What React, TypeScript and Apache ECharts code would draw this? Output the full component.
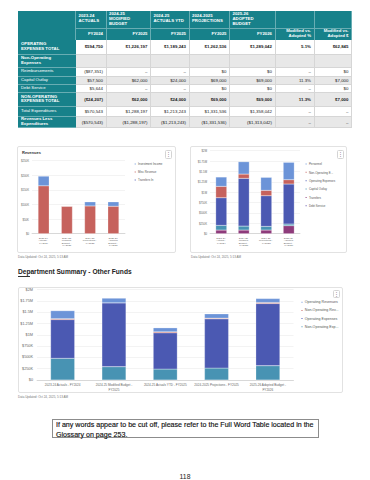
import React, { useEffect, useRef } from 'react';
import * as echarts from 'echarts';

const FONT = '"Liberation Sans", Arial, Helvetica, sans-serif';

// ---------- table data ----------
const tableHeaders = ['2023-24 ACTUALS', '2024-25 MODIFIED BUDGET', '2024-25 ACTUALS YTD', '2024-2025 PROJECTIONS', '2025-26 ADOPTED BUDGET', '', ''];
const fiscalYears = ['FY2024', 'FY2025', 'FY2025', 'FY2025', 'FY2026', 'Modified vs. Adopted %', 'Modified vs. Adopted $'];
const rowLabels = [
  'OPERATING EXPENSES TOTAL',
  'Non-Operating Expenses',
  'Reimbursements',
  'Capital Outlay',
  'Debt Service',
  'NON-OPERATING EXPENSES TOTAL',
  'Total Expenditures',
  'Revenues Less Expenditures',
];
const rowValues = [
  ['$594,750', '$1,226,197', '$1,189,243', '$1,262,536', '$1,289,042', '5.1%', '$62,845'],
  ['', '', '', '', '', '', ''],
  ['($87,351)', '–', '–', '$0', '$0', '–', '$0'],
  ['$57,500', '$62,000', '$24,000', '$69,000', '$69,000', '11.3%', '$7,000'],
  ['$5,644', '–', '–', '$0', '$0', '–', '$0'],
  ['($24,207)', '$62,000', '$24,000', '$69,000', '$69,000', '11.3%', '$7,000'],
  ['$570,543', '$1,288,197', '$1,213,243', '$1,331,536', '$1,358,042', '–', '–'],
  ['($570,543)', '($1,288,197)', '($1,213,243)', '($1,331,536)', '($1,313,042)', '–', '–'],
];
const boldLabelRows = [true, true, false, false, false, true, false, true];
const boldValueRows = [true, false, false, false, false, true, false, false];

// ---------- revenues chart ----------
const revCategories = ['2023-24 Actuals - FY2024', '2024-25 Modified Budget - FY2025', '2024-25 Projections - FY2025', '2025-26 Adopted Budget - FY2026'];
const revInvestmentIncome = [33000, 0, 14000, 15000];
const revMiscRevenue = [164000, 94000, 95000, 94000];
const revTransfersIn = [0, 0, 0, 0];

// ---------- expenditures chart ----------
const expCategories = ['2023-24 Actuals - FY2024', '2024-25 Modified Budget - FY2025', '2024-25 Projections - FY2025', '2025-26 Adopted Budget - FY2026'];
const expPersonnel = [225000, 297000, 313000, 418000];
const expNonOperating = [273000, 104000, 129000, 104000];
const expOperating = [667000, 1149000, 739000, 964000];
const expCapitalOutlay = [112000, 96000, 88000, 40000];
const expTransfers = [88000, 88000, 88000, 193000];
const expDebtService = [0, 0, 0, 0];

// ---------- department summary chart ----------
const sumCategories = ['2023-24 Actuals - FY2024', '2024-25 Modified Budget - FY2025', '2024-25 Actuals YTD - FY2025', '2024-2025 Projections - FY2025', '2025-26 Adopted Budget - FY2026'];
const sumOperatingRevenues = [177000, 103000, 88000, 95000, 88000];
const sumNonOperatingRevenues = [20000, 0, 22000, 15000, 22000];
const sumOperatingExpenses = [857000, 1413000, 801000, 1088000, 1376000];
const sumNonOperatingExpenses = [479000, 294000, 243000, 265000, 316000];

const dataUpdated = 'Data Updated: Oct 24, 2025, 5:13 AM';

const C_LIGHT = '#6c94d8';
const C_RED = '#c6625d';
const C_DARK = '#4b59b2';
const C_TEAL = '#4893b3';
const C_MAG = '#8e3b7b';
const C_DEBT = '#5d4ba6';
const TEAL_HDR = '#17818a';

const yFmt = (v: number) =>
  v === 0 ? '$0' : v >= 1e6 ? `$${+(v / 1e6).toFixed(2)}M` : `$${v / 1e3}K`;

// long category names wrap before the fiscal-year suffix
const wrapLong = (s: string) => (s.length > 30 ? s.replace(' FY', '\nFY') : s);

export default function App() {
  const ref = useRef<HTMLDivElement>(null);

  useEffect(() => {
    if (!ref.current) return;
    const chart = echarts.init(ref.current, undefined, { renderer: 'svg' });
    const small = { color: '#666', fontFamily: FONT };
    const mkX = (gi: number, data: string[], fs: number, lh: number, w: number | undefined, margin: number, formatter?: (s: string) => string) => ({
      type: 'category',
      gridIndex: gi,
      data,
      axisTick: { show: false },
      axisLine: { lineStyle: { color: '#bdbdbd', width: 0.5 } },
      axisLabel: w
        ? { ...small, interval: 0, fontSize: fs, lineHeight: lh, width: w, overflow: 'break', margin }
        : { ...small, interval: 0, fontSize: fs, lineHeight: lh, margin, formatter },
    });
    const mkY = (gi: number, max: number, interval: number, fs: number, margin: number) => ({
      type: 'value',
      gridIndex: gi,
      min: 0,
      max,
      interval,
      axisLine: { show: false },
      axisTick: { show: false },
      splitLine: { lineStyle: { color: '#e6e6e6', width: 0.5 } },
      axisLabel: { ...small, fontSize: fs, margin, formatter: yFmt },
    });
    const bar = (name: string, data: number[], color: string, gi: number, stack: string, bw: number) => ({
      type: 'bar',
      name,
      data,
      xAxisIndex: gi,
      yAxisIndex: gi,
      stack,
      barWidth: bw,
      itemStyle: { color, borderColor: '#ffffff', borderWidth: 0.25 },
    });
    const legend = (left: number, top: number, fs: number, lh: number, gap: number, w: number, items: [string, string][]) => ({
      orient: 'vertical',
      left,
      top,
      padding: 0,
      itemWidth: 3,
      itemHeight: 3,
      itemGap: gap,
      icon: 'roundRect',
      textStyle: { color: '#555', fontFamily: FONT, fontSize: fs, lineHeight: lh, width: w, overflow: 'truncate', ellipsis: '...', padding: [0, 0, 0, -3.7] },
      data: items.map(([name, color]) => ({ name, itemStyle: { color } })),
    });

    chart.setOption({
      animation: false,
      textStyle: { fontFamily: FONT },
      grid: [
        { left: 32, top: 160.7, width: 93, height: 73, containLabel: false, outerBoundsMode: 'none' },
        { left: 210, top: 150.7, width: 90, height: 83, containLabel: false, outerBoundsMode: 'none' },
        { left: 37, top: 289.6, width: 256.5, height: 90.4, containLabel: false, outerBoundsMode: 'none' },
      ],
      xAxis: [
        mkX(0, revCategories, 2.5, 2.3, 15, 3.5),
        mkX(1, expCategories, 2.5, 2.3, 15, 3.5),
        mkX(2, sumCategories, 3.1, 4.7, undefined, 2.5, wrapLong),
      ],
      yAxis: [
        mkY(0, 250000, 50000, 2.8, 3),
        mkY(1, 2000000, 250000, 2.8, 3),
        mkY(2, 2000000, 250000, 3.8, 4),
      ],
      legend: [
        legend(132.7, 161.5, 2.9, 3, 3, 40, [['Investment Income', C_LIGHT], ['Misc Revenue', C_RED], ['Transfers In', C_DARK]]),
        legend(303.6, 161.5, 2.9, 3, 3.35, 27.5, [['Personnel', C_LIGHT], ['Non-Operating Expenses', C_RED], ['Operating Expenses', C_DARK], ['Capital Outlay', C_TEAL], ['Transfers', C_MAG], ['Debt Service', C_DEBT]]),
        legend(299.5, 299.7, 3.6, 4, 3.2, 36, [['Operating Revenues', C_LIGHT], ['Non-Operating Revenues', C_RED], ['Operating Expenses', C_DARK], ['Non-Operating Expenses', C_TEAL]]),
      ],
      series: [
        bar('Transfers In', revTransfersIn, C_DARK, 0, 'rev', 11),
        bar('Misc Revenue', revMiscRevenue, C_RED, 0, 'rev', 11),
        bar('Investment Income', revInvestmentIncome, C_LIGHT, 0, 'rev', 11),

        bar('Debt Service', expDebtService, C_DEBT, 1, 'exp', 11),
        bar('Transfers', expTransfers, C_MAG, 1, 'exp', 11),
        bar('Capital Outlay', expCapitalOutlay, C_TEAL, 1, 'exp', 11),
        bar('Operating Expenses', expOperating, C_DARK, 1, 'exp', 11),
        bar('Non-Operating Expenses', expNonOperating, C_RED, 1, 'exp', 11),
        bar('Personnel', expPersonnel, C_LIGHT, 1, 'exp', 11),

        bar('Non-Operating Expenses', sumNonOperatingExpenses, C_TEAL, 2, 'sum', 24),
        bar('Operating Expenses', sumOperatingExpenses, C_DARK, 2, 'sum', 24),
        bar('Non-Operating Revenues', sumNonOperatingRevenues, C_RED, 2, 'sum', 24),
        bar('Operating Revenues', sumOperatingRevenues, C_LIGHT, 2, 'sum', 24),
      ],
    });
    return () => chart.dispose();
  }, []);

  const colX = [18, 76, 106.5, 151, 189.5, 230, 275.5, 314.5, 352];
  const rowY = [11, 28.5, 39.5, 55, 68, 76.5, 85, 93.3, 106.7, 117, 128];
  const cells: React.ReactNode[] = [];
  const hdrBorder = '0.5px solid rgba(255,255,255,0.35)';
  const dataBorder = '0.5px solid #d6d6d6';

  cells.push(
    <div key="tl" style={{ position: 'absolute', left: colX[0], top: rowY[0], width: colX[1] - colX[0], height: rowY[2] - rowY[0], background: TEAL_HDR, borderRight: hdrBorder, boxSizing: 'border-box' }} />
  );
  for (let c = 0; c < 7; c++) {
    const x = colX[c + 1];
    const w = colX[c + 2] - x;
    cells.push(
      <div key={'h1' + c} style={{ position: 'absolute', left: x, top: rowY[0], width: w, height: rowY[1] - rowY[0], background: TEAL_HDR, borderRight: hdrBorder, borderBottom: hdrBorder, boxSizing: 'border-box', display: 'flex', alignItems: 'center', paddingLeft: 2.5 }}>
        <div style={{ width: 34, color: '#fff', fontWeight: 700, fontSize: 4.3, lineHeight: '4.8px' }}>{tableHeaders[c]}</div>
      </div>
    );
    cells.push(
      <div key={'h2' + c} style={{ position: 'absolute', left: x, top: rowY[1], width: w, height: rowY[2] - rowY[1], background: TEAL_HDR, borderRight: hdrBorder, boxSizing: 'border-box', display: 'flex', alignItems: 'center', justifyContent: 'flex-end', paddingRight: 2.5 }}>
        <div style={{ width: 30, textAlign: 'right', color: '#fff', fontWeight: 700, fontSize: 4.3, lineHeight: '4.6px' }}>{fiscalYears[c]}</div>
      </div>
    );
  }
  for (let r = 0; r < rowLabels.length; r++) {
    const top = rowY[r + 2];
    const h = rowY[r + 3] - top;
    const bg = r % 2 === 1 ? '#e8e8e8' : '#ffffff';
    cells.push(
      <div key={'l' + r} style={{ position: 'absolute', left: colX[0], top, width: colX[1] - colX[0], height: h, background: TEAL_HDR, borderBottom: hdrBorder, boxSizing: 'border-box', display: 'flex', alignItems: 'center', paddingLeft: 3 }}>
        <div style={{ width: 45, color: '#fff', fontWeight: boldLabelRows[r] ? 700 : 400, fontSize: 4.3, lineHeight: '4.7px' }}>{rowLabels[r]}</div>
      </div>
    );
    for (let c = 0; c < 7; c++) {
      const x = colX[c + 1];
      cells.push(
        <div key={'d' + r + '_' + c} style={{ position: 'absolute', left: x, top, width: colX[c + 2] - x, height: h, background: bg, borderRight: dataBorder, borderBottom: dataBorder, boxSizing: 'border-box', display: 'flex', alignItems: 'center', justifyContent: 'flex-end', paddingRight: 2.5, color: '#222', fontWeight: boldValueRows[r] ? 700 : 400, fontSize: 4.4, whiteSpace: 'nowrap' }}>
          {rowValues[r][c]}
        </div>
      );
    }
  }

  const panel = (key: string, l: number, t: number, r: number, b: number) => (
    <div key={key} style={{ position: 'absolute', left: l, top: t, width: r - l, height: b - t, border: '0.7px solid #e2e2e2', borderRadius: 2, boxSizing: 'border-box' }} />
  );
  const kebab = (key: string, l: number, t: number) => (
    <div key={key} style={{ position: 'absolute', left: l, top: t, width: 7.5, height: 8.5, border: '0.6px solid #d4d4d4', borderRadius: 1.5, boxSizing: 'border-box', color: '#777', fontSize: 5, lineHeight: '7.5px', textAlign: 'center' }}>⋮</div>
  );
  const small = (key: string, l: number, cy: number, text: string) => (
    <div key={key} style={{ position: 'absolute', left: l, top: cy - 2, height: 4, lineHeight: '4px', fontSize: 3, color: '#777', whiteSpace: 'nowrap' }}>{text}</div>
  );

  return (
    <div style={{ position: 'fixed', left: 0, top: 0, width: 370, height: 480, background: '#fff', overflow: 'hidden', fontFamily: FONT }}>
      {cells}
      {panel('p1', 17, 146, 175.5, 253)}
      {panel('p2', 190, 146, 347, 253)}
      {panel('p3', 18, 287, 343, 393)}
      {kebab('k1', 164.5, 150)}
      {kebab('k2', 336.5, 150)}
      {kebab('k3', 332.5, 289.5)}
      <div style={{ position: 'absolute', left: 22, top: 149.5, fontSize: 4, lineHeight: '5px', fontWeight: 700, color: '#333' }}>Revenues</div>
      {small('u1', 18, 257, dataUpdated)}
      {small('u2', 191, 257, dataUpdated)}
      {small('u3', 18, 397, dataUpdated)}
      <div style={{ position: 'absolute', left: 18, top: 266.5, fontSize: 6.6, lineHeight: '9px', fontWeight: 700, color: '#222', whiteSpace: 'nowrap' }}>Department Summary - Other Funds</div>
      <div style={{ position: 'absolute', left: 18, top: 276.3, width: 12, height: 1, background: '#333' }} />
      <div style={{ position: 'absolute', left: 52, top: 419, width: 267, height: 18.5, border: '0.8px solid #8c8c8c', boxSizing: 'border-box', paddingLeft: 3, fontSize: 7.1, lineHeight: '10px', color: '#111', WebkitTextStroke: '0.15px #111', whiteSpace: 'nowrap' }}>
        If any words appear to be cut off, please refer to the Full Word Table located in the
        <br />
        Glossary on page 253.
      </div>
      <div style={{ position: 'absolute', left: 0, width: 370, top: 471.5, textAlign: 'center', fontSize: 6.8, lineHeight: '9px', color: '#222' }}>118</div>
      <div ref={ref} style={{ position: 'absolute', left: 0, top: 0, width: 370, height: 480 }} />
    </div>
  );
}
